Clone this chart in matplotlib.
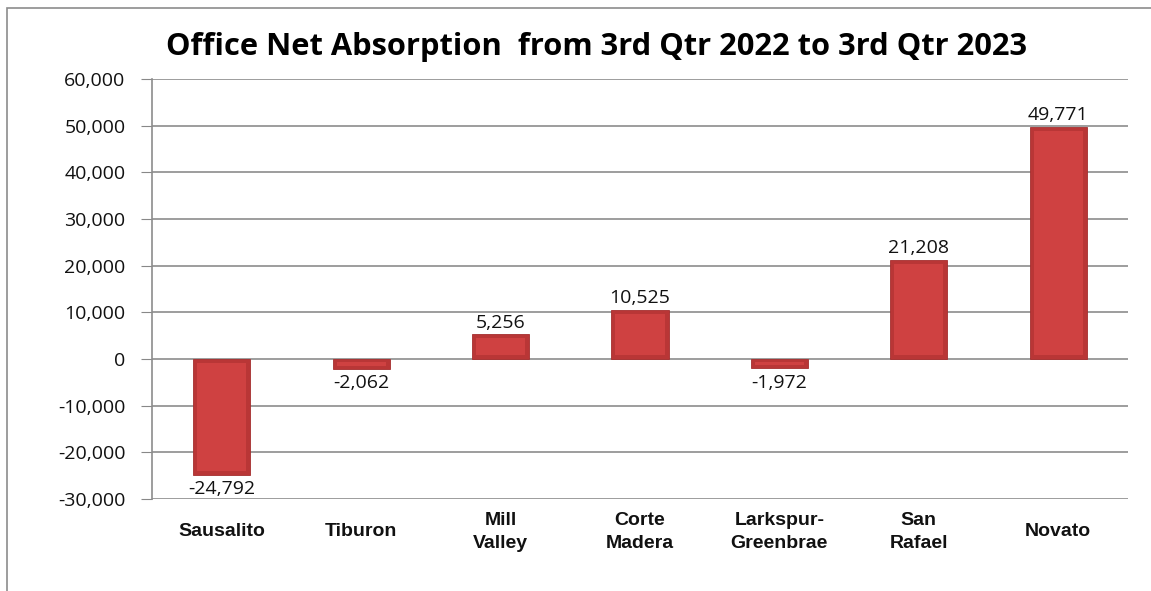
import matplotlib
matplotlib.use("Agg")
import matplotlib.pyplot as plt
from matplotlib.patches import Rectangle
from matplotlib.ticker import FuncFormatter
from matplotlib.transforms import blended_transform_factory
import numpy as np

categories = ["Sausalito", "Tiburon", "Mill\nValley", "Corte\nMadera",
              "Larkspur-\nGreenbrae", "San\nRafael", "Novato"]
values = [-24792, -2062, 5256, 10525, -1972, 21208, 49771]
title = "Office Net Absorption  from 3rd Qtr 2022 to 3rd Qtr 2023"

W, H = 1151, 591
fig = plt.figure(figsize=(W / 100, H / 100), dpi=100)
ax = fig.add_axes([152 / W, 1 - 499 / H, (1128 - 152) / W, (499 - 79) / H])

# outer frame
fig.patches.append(Rectangle((7 / W, -0.05), 1.2, 1 - 8 / H + 0.05,
                             transform=fig.transFigure, fill=False,
                             edgecolor="#8c8c8c", lw=1.2))

x = np.arange(len(categories))
bw = 0.41
bars = ax.bar(x, values, width=bw, color="#b93636", edgecolor="#a52e2e",
              linewidth=0.6, zorder=3)
# bevel-like highlight (inner lighter face)
px_x = 1.0 / 139.4      # one pixel in x data units
px_y = 90000 / 420.0    # one pixel in y data units
for b in bars:
    bx, by = b.get_x(), b.get_y()
    w, h = b.get_width(), b.get_height()
    ih = 4 * px_y
    ix = 4 * px_x
    hh = abs(h)
    if hh > 3 * ih:
        y0 = min(by, by + h) + ih
        ax.add_patch(Rectangle((bx + ix, y0), w - 2 * ix, hh - 2 * ih,
                               facecolor="#cf4141", edgecolor="none", zorder=3.5))
    else:
        y0 = min(by, by + h) + hh * 0.3
        ax.add_patch(Rectangle((bx + ix, y0), w - 2 * ix, hh * 0.4,
                               facecolor="#cf4141", edgecolor="none", zorder=3.5))

for xi, v in zip(x, values):
    lab = f"{v:,}"
    if v >= 0:
        ax.annotate(lab, (xi, v), xytext=(0, 2), textcoords="offset points",
                    ha="center", va="bottom", fontsize=14, family="Open Sans",
                    color="#111111", zorder=5)
    else:
        ax.annotate(lab, (xi, v), xytext=(0, -4), textcoords="offset points",
                    ha="center", va="top", fontsize=14, family="Open Sans",
                    color="#111111", zorder=5)

ax.set_xlim(-0.5, len(categories) - 0.5)
ax.set_ylim(-30000, 60000)
ax.set_yticks(np.arange(-30000, 60001, 10000))
ax.yaxis.set_major_formatter(FuncFormatter(lambda v, p: f"{int(v):,}"))
ax.tick_params(axis="y", labelsize=14, length=8, color="#888888",
               direction="out", pad=11, labelcolor="#111111")
for lab in ax.get_yticklabels():
    lab.set_family("Open Sans")
ax.set_xticks(x)
ax.set_xticklabels([])
ax.tick_params(axis="x", length=0)
tr = blended_transform_factory(ax.transData, fig.transFigure)
for xi, c in zip(x, categories):
    ax.text(xi, 1 - 532 / H, c, transform=tr,
            ha="center", va="center", fontsize=14, fontweight="bold",
            family="Liberation Sans", color="#111111", linespacing=1.4)
ax.yaxis.grid(True, color="#8c8c8c", lw=1.2, zorder=0)
ax.set_axisbelow(True)
for s in ["top", "right", "bottom"]:
    ax.spines[s].set_visible(False)
ax.spines["left"].set_color("#8c8c8c")
ax.spines["left"].set_linewidth(1.2)

fig.text(597 / W, 1 - 55 / H, title, ha="center", va="baseline",
         fontsize=22.2, fontweight="bold", family="Open Sans", color="#000000")

fig.savefig("out.png", dpi=100)
